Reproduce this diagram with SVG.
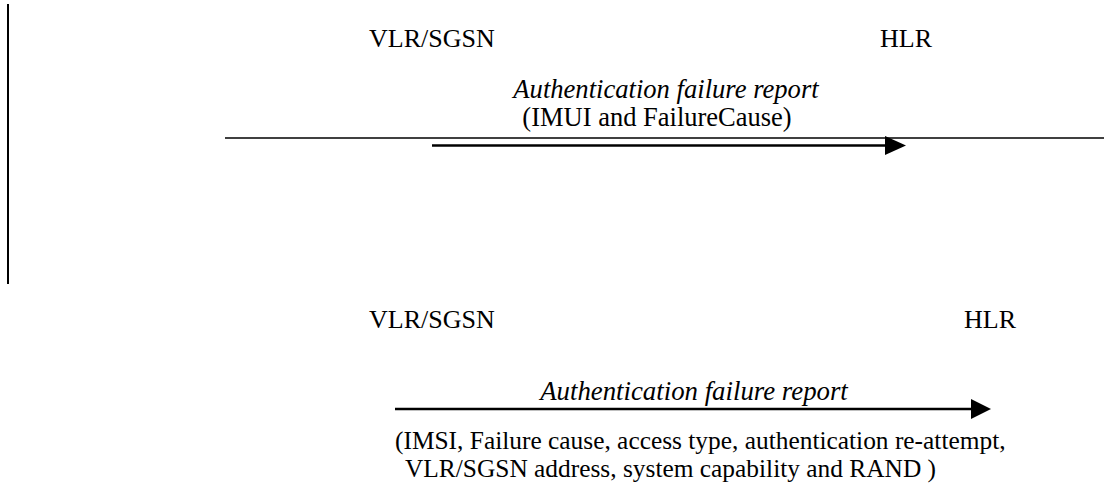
<svg xmlns="http://www.w3.org/2000/svg" width="1104" height="483" viewBox="0 0 1104 483">
  <defs>
    <style>
      .t { font-family: "Liberation Serif", "Times New Roman", serif; fill: #000; }
      .n { font-size: 26px; }
      .i { font-style: italic; }
      .ln { stroke: #000; stroke-width: 1.5; fill: none; }
      .bd { stroke: #000; stroke-width: 2; fill: none; }
      .sh { stroke: #000; stroke-width: 2.5; fill: none; }
      .hd { fill: #000; }
    </style>
  </defs>
  <rect width="1104" height="483" fill="#fff"/>
  <g id="border">
    <line class="bd" x1="8" y1="4" x2="8" y2="284"/>
  </g>
  <g id="node-vlr-top"><text class="t n" x="369" y="47">VLR/SGSN</text></g>
  <g id="node-hlr-top"><text class="t n" x="880" y="47">HLR</text></g>
  <g id="node-vlr-bottom"><text class="t n" x="369" y="328">VLR/SGSN</text></g>
  <g id="node-hlr-bottom"><text class="t n" x="964" y="328">HLR</text></g>
  <g id="connectors">
    <line class="ln" x1="225" y1="138" x2="1104" y2="138"/>
    <line class="sh" x1="432" y1="145.5" x2="887" y2="145.5"/>
    <polygon class="hd" points="885,136 906,145.5 885,155"/>
    <line class="sh" x1="395" y1="409" x2="973" y2="409"/>
    <polygon class="hd" points="971,399 991,409 971,419"/>
  </g>
  <g id="labels">
    <text class="t i" x="666" y="98" text-anchor="middle" font-size="26.6">Authentication failure report</text>
    <text class="t" x="657" y="126" text-anchor="middle" font-size="26.5">(IMUI and FailureCause)</text>
    <text class="t i" x="694" y="400" text-anchor="middle" font-size="26.8">Authentication failure report</text>
    <text class="t" x="395" y="449" font-size="25.4">(IMSI, Failure cause, access type, authentication re-attempt,</text>
    <text class="t" x="405" y="477" font-size="25.4">VLR/SGSN address, system capability and RAND )</text>
  </g>
</svg>
